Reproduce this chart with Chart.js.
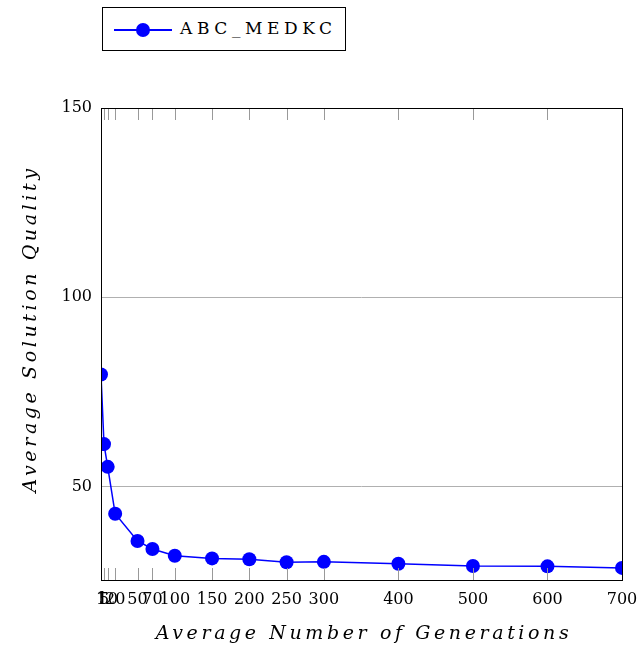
<!DOCTYPE html>
<html>
<head>
<meta charset="utf-8">
<script src="https://cdn.jsdelivr.net/npm/chart.js@4/dist/chart.umd.min.js"></script>
<style>
  body { margin: 0; background: #fff; }
  #wrap { position: relative; width: 638px; height: 651px; }
  #legend {
    position: absolute; left: 102px; top: 7px; width: 242px; height: 42px;
    border: 1px solid #000; background: #fff;
    font-family: "DejaVu Serif", serif; font-size: 17px; letter-spacing: 4.6px;
  }
  #legend .line { position: absolute; left: 11px; top: 21px; width: 58px; height: 1.5px; background: #0000ff; }
  #legend .dot { position: absolute; left: 33px; top: 15px; width: 14px; height: 14px; border-radius: 50%; background: #0000ff; }
  #legend .txt { position: absolute; left: 77px; top: 10px; }
</style>
</head>
<body>
<div id="wrap">
  <canvas id="myChart" width="638" height="651"></canvas>
  <div id="legend"><div class="line"></div><div class="dot"></div><div class="txt">ABC_MEDKC</div></div>
</div>
<script>
let generations = [1, 5, 10, 20, 50, 70, 100, 150, 200, 250, 300, 400, 500, 600, 700];
let quality = [79.6, 61.2, 55.2, 42.8, 35.6, 33.5, 31.7, 31.0, 30.8, 30.0, 30.1, 29.6, 29.0, 28.9, 28.5];
let xTicks = [1, 5, 10, 20, 50, 70, 100, 150, 200, 250, 300, 400, 500, 600, 700];
let yTicks = [50, 100, 150];
let seriesName = "ABC_MEDKC";
let xTitle = "Average Number of Generations";
let yTitle = "Average Solution Quality";

let points = [];
for (let i = 0; i < generations.length; i++) {
    points.push({ x: generations[i], y: quality[i] });
}

// frame, inward x ticks and the spaced axis titles
let frame = {
    id: 'frame',
    afterDraw: function (chart) {
        let ctx = chart.ctx;
        let a = chart.chartArea;
        let xs = chart.scales.x;
        ctx.save();
        ctx.strokeStyle = "#999";
        ctx.lineWidth = 1;
        xTicks.forEach(function (v) {
            let px = Math.round(xs.getPixelForValue(v)) + 0.5;
            ctx.beginPath();
            ctx.moveTo(px, a.bottom);
            ctx.lineTo(px, a.bottom - 12);
            ctx.moveTo(px, a.top);
            ctx.lineTo(px, a.top + 12);
            ctx.stroke();
        });
        ctx.strokeStyle = "#000";
        ctx.strokeRect(Math.round(a.left) + 0.5, Math.round(a.top) + 0.5, Math.round(a.right - a.left), Math.round(a.bottom - a.top));

        ctx.fillStyle = "#000";
        ctx.font = "italic 19px 'DejaVu Serif'";
        ctx.letterSpacing = "3.6px";
        ctx.textAlign = "center";
        ctx.textBaseline = "middle";
        ctx.fillText(xTitle, 364, 634);
        ctx.translate(31, 329);
        ctx.rotate(-Math.PI / 2);
        ctx.fillText(yTitle, 0, 0);
        ctx.restore();
    }
};

new Chart("myChart", {
    type: "line",
    data: {
        datasets: [{
            label: seriesName,
            data: points,
            borderColor: "#0000ff",
            backgroundColor: "#0000ff",
            borderWidth: 1.5,
            pointRadius: 7,
            pointBorderWidth: 0,
            pointHoverRadius: 7,
            tension: 0
        }]
    },
    options: {
        responsive: false,
        animation: false,
        layout: { padding: { top: 108, right: 16, left: 0, bottom: 0 } },
        plugins: { legend: { display: false }, tooltip: { enabled: false } },
        scales: {
            x: {
                type: "linear",
                min: 1,
                max: 700,
                afterBuildTicks: function (scale) {
                    scale.ticks = xTicks.map(function (v) { return { value: v }; });
                },
                afterFit: function (scale) {
                    scale.height = 71;
                    scale.paddingLeft = 0;
                    scale.paddingRight = 0;
                },
                ticks: {
                    autoSkip: false,
                    maxRotation: 0,
                    minRotation: 0,
                    padding: 10,
                    color: "#000",
                    font: { family: "DejaVu Serif", size: 16 }
                },
                grid: { display: false, drawTicks: false },
                border: { display: false }
            },
            y: {
                min: 25.3,
                max: 150,
                afterBuildTicks: function (scale) {
                    scale.ticks = yTicks.map(function (v) { return { value: v }; });
                },
                afterFit: function (scale) {
                    scale.width = 101;
                    scale.paddingTop = 0;
                    scale.paddingBottom = 0;
                },
                ticks: {
                    padding: 9,
                    color: "#000",
                    font: { family: "DejaVu Serif", size: 16 }
                },
                grid: { color: "#b0b0b0", drawTicks: false },
                border: { display: false }
            }
        }
    },
    plugins: [frame]
});
</script>
</body>
</html>
